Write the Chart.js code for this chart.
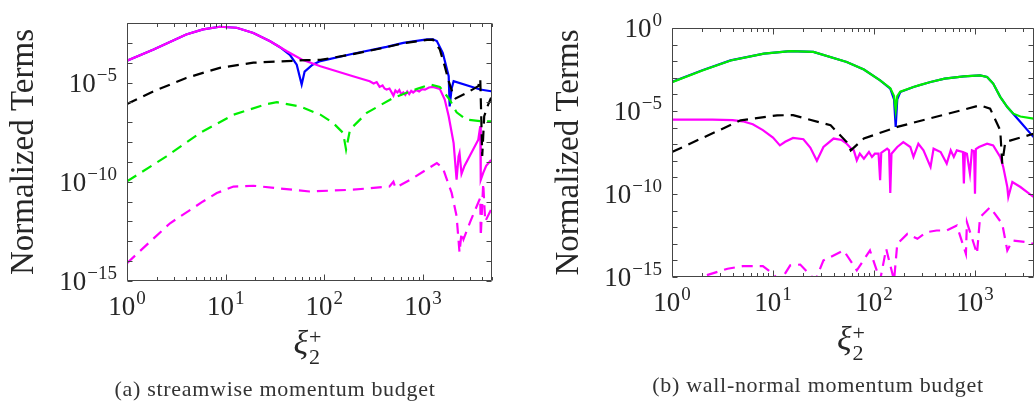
<!DOCTYPE html>
<html>
<head>
<meta charset="utf-8">
<title>Momentum budgets</title>
<script src="https://cdn.jsdelivr.net/npm/chart.js"></script>
<style>
  html, body { margin: 0; padding: 0; background: #fff; overflow: hidden; }
  body { width: 1034px; height: 403px; position: relative; }
  canvas { position: absolute; top: 0; }
  #leftChart { left: 0; }
  #rightChart { left: 530px; }
  .caption {
    position: absolute; transform: translateX(-50%);
    font-family: 'Liberation Serif', 'Times New Roman', serif;
    font-size: 22px; line-height: 22px; letter-spacing: 0.7px;
    color: #333; white-space: nowrap;
  }
</style>
</head>
<body>
<canvas id="leftChart" width="560" height="403"></canvas>
<canvas id="rightChart" width="570" height="403"></canvas>
<div class="caption" style="left:275px; top:378px">(a) streamwise momentum budget</div>
<div class="caption" style="left:818px; top:374px">(b) wall-normal momentum budget</div>

<script>
// ---- (a) streamwise budget ----
const aBlueX = [1, 1.86, 3.98, 5.89, 8.71, 12.9, 19.1, 28.2, 35.5, 44.7, 52.5, 58.9, 63.1, 75.9, 91.2, 195, 427, 631, 1096, 1259, 1380, 1585, 1820, 1862, 1950, 2042, 3802, 4898];
const aBlueY = [1.26e-4, 4.68e-4, 2.63e-3, 4.79e-3, 6.46e-3, 5.75e-3, 3.16e-3, 1.20e-3, 6.03e-4, 2.51e-4, 7.94e-5, 7.94e-6, 3.55e-5, 7.94e-5, 1.20e-4, 2.82e-4, 6.31e-4, 1.0e-3, 1.48e-3, 1.51e-3, 1.23e-3, 3.16e-4, 2.09e-5, 6.31e-7, 5.01e-6, 1.17e-5, 4.47e-6, 3.63e-6];

const aBlackX = [1, 1.86, 3.98, 8.71, 19.1, 41.7, 66.1, 91.2, 195, 427, 631, 1096, 1259, 1479, 1660, 1820, 2042, 2138, 2818, 3631, 3802, 3981, 4169, 4571, 4898];
const aBlackY = [8.32e-7, 3.63e-6, 1.70e-5, 5.50e-5, 1.0e-4, 1.20e-4, 1.35e-4, 1.38e-4, 2.69e-4, 6.03e-4, 9.55e-4, 1.41e-3, 1.45e-3, 4.68e-4, 6.61e-5, 1.17e-5, 2.04e-6, 1.58e-6, 3.16e-6, 6.61e-6, 1.55e-5, 2.0e-9, 2.0e-7, 7.76e-7, 1.70e-6];

const aMagX = [1, 1.86, 3.98, 5.89, 8.71, 12.9, 19.1, 28.2, 41.7, 58.9, 91.2, 195, 288, 316, 339, 363, 389, 407, 427, 457, 501, 525, 550, 575, 603, 631, 661, 692, 724, 759, 794, 851, 912, 977, 1047, 1148, 1259, 1479, 1660, 1820, 2042, 2188, 2291, 2344, 2455, 2630, 3631, 3802, 3846, 4074, 4365, 4898];
const aMagY = [1.26e-4, 4.68e-4, 2.63e-3, 4.79e-3, 6.46e-3, 5.75e-3, 3.16e-3, 1.20e-3, 3.80e-4, 1.45e-4, 6.61e-5, 2.09e-5, 1.17e-5, 8.91e-6, 1.05e-5, 6.03e-6, 7.08e-6, 5.01e-6, 4.47e-6, 5.01e-6, 2.19e-6, 3.98e-6, 3.16e-6, 4.17e-6, 2.51e-6, 3.16e-6, 2.40e-6, 3.55e-6, 2.63e-6, 3.80e-6, 3.16e-6, 4.17e-6, 3.55e-6, 4.68e-6, 4.37e-6, 5.62e-6, 6.03e-6, 4.79e-6, 1.38e-6, 2.0e-7, 8.91e-9, 1.26e-10, 1.91e-9, 2.82e-9, 2.51e-10, 6.31e-10, 1.32e-8, 6.31e-8, 1.26e-10, 2.82e-10, 6.31e-10, 1.26e-9];

const aGreenX = [1, 2.51, 5.50, 12.0, 26.3, 33.1, 56.2, 91.2, 123, 155, 166, 182, 269, 501, 871, 1175, 1479, 1862, 2188, 2754, 3890, 4898];
const aGreenY = [1.05e-10, 1.91e-9, 2.88e-8, 2.40e-7, 8.32e-7, 1.02e-6, 6.31e-7, 2.40e-7, 9.12e-8, 2.88e-8, 4.17e-9, 4.27e-8, 2.95e-7, 1.70e-6, 4.79e-6, 7.94e-6, 6.03e-6, 1.38e-6, 3.16e-7, 1.35e-7, 1.12e-7, 1.12e-7];

const aMagDashX = [1, 2.73, 5.89, 8.13, 12.0, 19.1, 70.8, 195, 457, 501, 525, 741, 1380, 1585, 1950, 2188, 2344, 2455, 2570, 2985, 3802, 3846, 4074, 4266, 4898];
const aMagDashY = [7.94e-15, 8.13e-13, 1.02e-11, 2.69e-11, 5.75e-11, 6.31e-11, 3.24e-11, 3.98e-11, 5.75e-11, 1.0e-10, 5.01e-11, 1.26e-10, 8.71e-10, 5.01e-10, 2.75e-11, 1.86e-12, 2.69e-14, 2.75e-13, 1.26e-13, 8.71e-13, 1.58e-11, 1.78e-13, 8.51e-11, 1e-12, 3.98e-12];

// ---- (b) wall-normal budget ----
const bBlueX = [1, 2.0, 3.80, 8.13, 14.8, 25.1, 53.7, 79.4, 115, 145, 158, 164, 170, 182, 246, 282, 363, 501, 776, 1122, 1318, 1514, 1778, 2089, 2818, 3802];
const bBlueY = [5.62e-4, 2.82e-3, 1.12e-2, 2.88e-2, 4.07e-2, 3.63e-2, 8.91e-3, 3.16e-3, 7.08e-4, 2.24e-4, 5.01e-5, 1.10e-6, 5.01e-5, 1.38e-4, 2.82e-4, 3.55e-4, 5.62e-4, 8.91e-4, 1.23e-3, 1.41e-3, 1.12e-3, 4.47e-4, 7.08e-5, 1.74e-5, 2.19e-6, 2.69e-7];

const bGreenX = [1, 2.0, 3.80, 8.13, 14.8, 25.1, 53.7, 79.4, 115, 145, 158, 164, 170, 182, 246, 282, 363, 501, 776, 1122, 1318, 1514, 1778, 2089, 2399, 2818, 3802];
const bGreenY = [5.37e-4, 2.75e-3, 1.10e-2, 2.88e-2, 4.07e-2, 3.63e-2, 8.91e-3, 3.16e-3, 7.08e-4, 2.40e-4, 7.94e-5, 1.10e-5, 7.94e-5, 1.45e-4, 2.82e-4, 3.63e-4, 5.62e-4, 8.91e-4, 1.23e-3, 1.41e-3, 1.12e-3, 4.47e-4, 7.08e-5, 1.74e-5, 6.92e-6, 4.68e-6, 3.47e-6];

const bBlackX = [1, 4.79, 11.0, 15.8, 37.2, 53.7, 58.9, 79.4, 170, 1122, 1413, 1778, 1862, 1995, 3802];
const bBlackY = [3.39e-8, 2.75e-6, 5.50e-6, 5.62e-6, 1.38e-6, 1.35e-7, 4.27e-8, 2.19e-7, 1.10e-6, 2.19e-5, 1.38e-5, 6.92e-7, 6.76e-9, 1.35e-7, 4.27e-7];

const bMagX = [1, 2.51, 3.98, 5.01, 6.31, 7.94, 10, 11.7, 13.2, 15.8, 20.0, 23.4, 27.2, 31.6, 39.8, 47.9, 53.7, 60.3, 63.1, 67.6, 72.4, 79.4, 89.1, 95.5, 102, 111, 115, 118, 135, 141, 145, 149, 170, 195, 229, 246, 275, 309, 363, 389, 457, 525, 575, 617, 661, 760, 776, 795, 832, 891, 933, 980, 1000, 1020, 1096, 1318, 1514, 1778, 1905, 2089, 2138, 2344, 2818, 3802];
const bMagY = [3.02e-6, 3.02e-6, 2.82e-6, 2.40e-6, 1.58e-6, 7.08e-7, 2.51e-7, 8.51e-8, 1.41e-7, 2.40e-7, 2.0e-7, 6.31e-8, 1e-8, 6.76e-8, 2.19e-7, 1.78e-7, 1.07e-7, 5.01e-8, 4.27e-8, 1.07e-8, 2.69e-8, 1.35e-8, 3.39e-8, 1.70e-8, 2.69e-8, 2.69e-8, 6.76e-10, 3.02e-8, 5.37e-8, 4.27e-8, 1.15e-10, 2.69e-8, 6.76e-8, 1.35e-7, 6.76e-8, 1.70e-8, 1.07e-7, 4.27e-8, 4.27e-9, 5.37e-8, 3.39e-8, 6.76e-9, 4.27e-8, 1.70e-8, 4.27e-8, 3.39e-8, 4.27e-10, 3.02e-8, 2.69e-8, 1.70e-9, 4.27e-8, 3.80e-8, 1.05e-10, 5.01e-8, 6.76e-8, 1.07e-7, 8.51e-8, 1.70e-8, 4.27e-9, 2.63e-10, 6.61e-11, 5.25e-10, 2.63e-10, 6.61e-11];

const bMagDashX = [1.58, 2.19, 3.55, 5.01, 7.94, 10, 11.7, 14.8, 18.6, 26.3, 31.6, 50.1, 67.6, 91.2, 115, 132, 158, 170, 214, 269, 331, 417, 525, 661, 813, 832, 1047, 1122, 1413, 1862, 2089, 2344, 3236, 3802];
const bMagDashY = [3.16e-16, 1.26e-15, 3.16e-15, 4.47e-15, 4.47e-15, 1.58e-15, 5.01e-16, 5.01e-15, 5.62e-15, 6.31e-16, 1e-14, 3.98e-14, 2.51e-15, 3.98e-14, 6.31e-16, 5.01e-14, 6.31e-16, 1e-13, 3.98e-13, 2.0e-13, 5.01e-13, 6.31e-13, 6.31e-13, 1.26e-12, 2.51e-14, 2.0e-12, 2.51e-14, 3.98e-12, 1.58e-11, 1.58e-12, 3.98e-14, 1.58e-13, 1.26e-13, 1e-13];

// tick labels
const xTickVals = [1, 10, 100, 1000];
const xTickExp = ['0', '1', '2', '3'];
const aYTickVals = [1e-5, 1e-10, 1e-15];
const aYTickExp = ['\u22125', '\u221210', '\u221215'];
const bYTickVals = [1, 1e-5, 1e-10, 1e-15];
const bYTickExp = ['0', '\u22125', '\u221210', '\u221215'];

const FONT = "'Liberation Serif', 'Times New Roman', serif";
const INK = '#262626';

// "10" with a raised exponent
function drawPow(ctx, exp, x, y, align) {
  ctx.font = '27px ' + FONT;
  const wb = ctx.measureText('10').width;
  ctx.font = '19px ' + FONT;
  const ws = ctx.measureText(exp).width;
  const w = wb + 1 + ws;
  const left = align === 'right' ? x - w : x - w / 2;
  ctx.textAlign = 'left';
  ctx.textBaseline = 'alphabetic';
  ctx.font = '27px ' + FONT;
  ctx.fillText('10', left, y);
  ctx.font = '19px ' + FONT;
  ctx.fillText(exp, left + wb + 1, y - 11);
}

const frame = {
  id: 'frame',
  afterDatasetsDraw(chart, args, o) {
    const { ctx, chartArea: a, scales: { x, y } } = chart;
    const L = Math.round(a.left) + 0.5, R = Math.round(a.right) - 0.5;
    const T = Math.round(a.top) + 0.5, B = Math.round(a.bottom) - 0.5;
    ctx.save();
    ctx.strokeStyle = '#454545';
    ctx.lineWidth = 1;
    ctx.beginPath();
    ctx.rect(L, T, R - L, B - T);
    // log minor/major ticks on x, pointing inward
    for (let d = 1; d <= 10000; d *= 10) {
      for (let k = 1; k <= 9; k++) {
        const v = k * d;
        if (v > x.max) continue;
        const px = Math.round(x.getPixelForValue(v)) + 0.5;
        const len = k === 1 ? 6 : 3.5;
        ctx.moveTo(px, B); ctx.lineTo(px, B - len);
        ctx.moveTo(px, T); ctx.lineTo(px, T + len);
      }
    }
    // one tick per decade on y
    for (let e = -15; e <= 0; e++) {
      const v = Math.pow(10, e);
      if (v > y.max * 1.001) continue;
      const py = Math.round(y.getPixelForValue(v)) + 0.5;
      ctx.moveTo(L, py); ctx.lineTo(L + 5, py);
      ctx.moveTo(R, py); ctx.lineTo(R - 5, py);
    }
    ctx.stroke();

    ctx.fillStyle = INK;
    xTickVals.forEach((v, i) => drawPow(ctx, xTickExp[i], x.getPixelForValue(v), a.bottom + 34, 'center'));
    o.yVals.forEach((v, i) => drawPow(ctx, o.yExp[i], a.left - 10, y.getPixelForValue(v) + 9, 'right'));

    // y title
    ctx.save();
    ctx.translate(a.left - 94, (a.top + a.bottom) / 2);
    ctx.rotate(-Math.PI / 2);
    ctx.font = '33px ' + FONT;
    ctx.textAlign = 'center';
    ctx.fillText('Normalized Terms', 0, 0);
    ctx.restore();

    // x title: xi with sub 2 and sup +
    ctx.font = 'italic 34px ' + FONT;
    const wx = ctx.measureText('\u03be').width;
    ctx.font = '22px ' + FONT;
    const ws = Math.max(ctx.measureText('2').width, ctx.measureText('+').width);
    const cx = (a.left + a.right) / 2 - 2;
    const x0 = cx - (wx + ws + 1) / 2;
    ctx.textAlign = 'left';
    ctx.font = 'italic 34px ' + FONT;
    ctx.fillText('\u03be', x0, a.bottom + 73);
    ctx.font = '22px ' + FONT;
    ctx.fillText('2', x0 + wx + 1, a.bottom + 83);
    ctx.fillText('+', x0 + wx + 1, a.bottom + 63);
    ctx.restore();
  }
};

function series(xs, ys, color, dashed, order) {
  return {
    data: xs.map((v, i) => ({ x: v, y: ys[i] })),
    borderColor: color,
    borderWidth: 2.2,
    borderDash: dashed ? [11, 7] : [],
    pointRadius: 0,
    fill: false,
    tension: 0,
    order: order
  };
}

function makeChart(id, cfg) {
  return new Chart(document.getElementById(id), {
    type: 'line',
    data: { datasets: cfg.datasets },
    options: {
      responsive: false,
      animation: false,
      devicePixelRatio: 1,
      layout: { padding: { left: 0, top: cfg.top, right: cfg.right, bottom: 0 } },
      plugins: {
        legend: { display: false },
        tooltip: { enabled: false },
        frame: { yVals: cfg.yVals, yExp: cfg.yExp }
      },
      scales: {
        x: {
          type: 'logarithmic', min: 1, max: cfg.xMax,
          grid: { display: false }, border: { display: false }, ticks: { display: false },
          afterFit: s => { s.height = cfg.xH; }
        },
        y: {
          type: 'logarithmic', min: 1e-15, max: cfg.yMax,
          grid: { display: false }, border: { display: false }, ticks: { display: false },
          afterFit: s => { s.width = cfg.yW; }
        }
      }
    },
    plugins: [frame]
  });
}

makeChart('leftChart', {
  top: 23, right: 68, xH: 122, yW: 127, xMax: 5000, yMax: 1e-2,
  yVals: aYTickVals, yExp: aYTickExp,
  datasets: [
    series(aBlueX, aBlueY, '#0000ff', false, 4),
    series(aMagX, aMagY, '#ff00ff', false, 3),
    series(aBlackX, aBlackY, '#000000', true, 2),
    series(aGreenX, aGreenY, '#00ee00', true, 1),
    series(aMagDashX, aMagDashY, '#ff00ff', true, 0)
  ]
});

makeChart('rightChart', {
  top: 28, right: 66, xH: 126, yW: 142, xMax: 3840, yMax: 1,
  yVals: bYTickVals, yExp: bYTickExp,
  datasets: [
    series(bBlueX, bBlueY, '#0000ff', false, 4),
    series(bGreenX, bGreenY, '#00ee00', false, 3),
    series(bMagX, bMagY, '#ff00ff', false, 2),
    series(bBlackX, bBlackY, '#000000', true, 1),
    series(bMagDashX, bMagDashY, '#ff00ff', true, 0)
  ]
});
</script>
</body>
</html>
